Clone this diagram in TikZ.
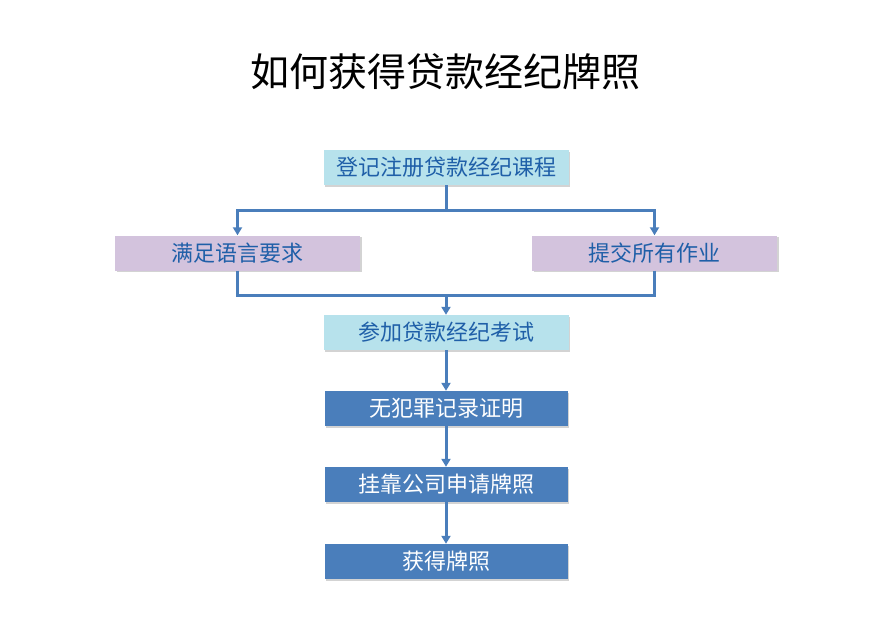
\documentclass[tikz,border=0pt]{standalone}
\usepackage{fontspec}
\setmainfont{Noto Sans CJK SC}
\usetikzlibrary{arrows.meta,shadows}
\definecolor{cy}{HTML}{B7E2EC}
\definecolor{lav}{HTML}{D3C3DD}
\definecolor{bl}{HTML}{4A7EBB}
\definecolor{tx}{HTML}{1F5FA8}
\tikzset{
 box/.style={minimum width=245pt,minimum height=35pt,inner sep=0pt,font=\fontsize{22pt}{24pt}\selectfont,drop shadow={shadow xshift=1.5pt,shadow yshift=-1.5pt,opacity=0.35}},
 lite/.style={box,fill=cy,text=tx},
 purp/.style={box,fill=lav,text=tx},
 dark/.style={box,fill=bl,text=white,minimum width=243pt},
 ln/.style={draw=bl,line width=3pt},
 ar/.style={ln,-{Triangle[length=8pt,width=9pt]}}
}
\begin{document}
\begin{tikzpicture}[x=1pt,y=-1pt]
\useasboundingbox (0,0) rectangle (894,629);
\node[font=\fontsize{39pt}{42pt}\selectfont] (t) at (445,72) {如何获得贷款经纪牌照};
\node[lite] (a) at (446,167.5) {登记注册贷款经纪课程};
\node[purp] (l) at (237.5,253) {满足语言要求};
\node[purp] (r) at (654.5,253) {提交所有作业};
\node[lite] (b) at (446,332.5) {参加贷款经纪考试};
\node[dark] (c) at (446,408.5) {无犯罪记录证明};
\node[dark] (d) at (446,484.5) {挂靠公司申请牌照};
\node[dark] (e) at (446,561.5) {获得牌照};
\coordinate (s) at (446,210);
\coordinate (m) at (446,295);
\draw[ln] (a.south) -- (s);
\draw[ar] (s) -| (l.north);
\draw[ar] (s) -| (r.north);
\draw[ln] (l.south) |- (m);
\draw[ln] (r.south) |- (m);
\draw[ar] (m) -- (b.north);
\draw[ar] (b) -- (c);
\draw[ar] (c) -- (d);
\draw[ar] (d) -- (e);
\end{tikzpicture}
\end{document}
